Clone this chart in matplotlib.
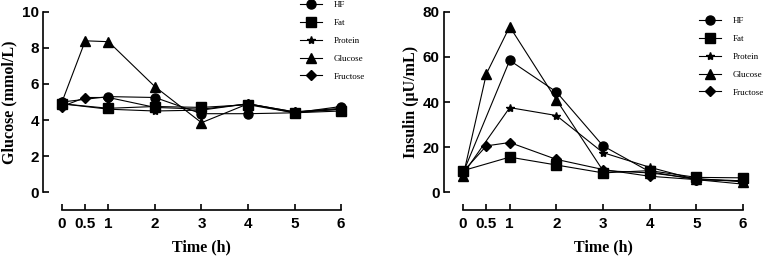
import matplotlib
matplotlib.use("Agg")
import matplotlib.pyplot as plt

plt.rcParams["font.family"] = "Liberation Sans"
plt.rcParams["font.weight"] = "bold"

# -----------------------------------------------------------------------------
# Data
# -----------------------------------------------------------------------------
T_FULL = [0, 0.5, 1, 2, 3, 4, 5, 6]
T_SHORT = [0, 1, 2, 3, 4, 5, 6]
X_TICKS = [0, 0.5, 1, 2, 3, 4, 5, 6]
X_TICK_LABELS = ["0", "0.5", "1", "2", "3", "4", "5", "6"]

GROUPS = ["HF", "Fat", "Protein", "Glucose", "Fructose"]
MARKERS = ["o", "s", "*", "^", "D"]

# blood glucose (mmol/L)
glu_hf = [5.0, 5.3, 5.25, 4.35, 4.35, 4.4, 4.75]
glu_fat = [4.9, 4.65, 4.75, 4.7, 4.85, 4.4, 4.5]
glu_protein = [4.9, 4.6, 4.5, 4.55, 4.9, 4.4, 4.6]
glu_glucose = [5.0, 8.4, 8.35, 5.85, 3.85, 4.9, 4.45, 4.6]
glu_fructose = [4.75, 5.25, 5.25, 4.7, 4.6, 4.9, 4.45, 4.65]

# insulin (uU/mL)
ins_hf = [8.5, 58.5, 44.5, 20.5, 9.0, 5.5, 5.0]
ins_fat = [9.5, 15.5, 12.0, 8.5, 9.5, 6.5, 6.3]
ins_protein = [8.0, 37.5, 34.0, 17.5, 11.0, 5.5, 3.5]
ins_glucose = [7.0, 52.5, 73.5, 41.0, 9.5, 8.5, 6.0, 4.5]
ins_fructose = [9.0, 20.5, 22.0, 14.5, 10.0, 7.0, 5.5, 5.0]

GLU_SERIES = [glu_hf, glu_fat, glu_protein, glu_glucose, glu_fructose]
INS_SERIES = [ins_hf, ins_fat, ins_protein, ins_glucose, ins_fructose]

LABEL_FONT = dict(family="Liberation Serif", weight="bold", size=11.5)


def marker_size(m):
    return {"o": 6.5, "s": 6.5, "*": 6.0, "^": 6.5, "D": 4.8}[m]


def draw_panel(ax, series, ylim, yticks, ylabel):
    for name, m, ys in zip(GROUPS, MARKERS, series):
        xs = T_FULL if len(ys) == len(T_FULL) else T_SHORT
        ax.plot(xs, ys, color="black", linewidth=0.8, marker=m,
                markersize=marker_size(m), markerfacecolor="black",
                markeredgecolor="black", label=name, clip_on=False)
    ax.set_xlim(0, 6)
    ax.set_ylim(*ylim)
    ax.set_xticks(X_TICKS)
    ax.set_xticklabels(X_TICK_LABELS)
    ax.set_yticks(yticks)
    ax.set_yticklabels([str(v) for v in yticks])
    ax.spines["top"].set_visible(False)
    ax.spines["right"].set_visible(False)
    ax.spines["left"].set_position(("outward", 13.7))
    ax.spines["bottom"].set_position(("outward", 13.0))
    ax.spines["left"].set_bounds(ylim[0], ylim[1])
    ax.spines["bottom"].set_bounds(0, 6)
    for sp in ("left", "bottom"):
        ax.spines[sp].set_linewidth(1.2)
    ax.tick_params(axis="both", direction="in", length=4, width=1.2, pad=3,
                   labelsize=11)
    ax.tick_params(axis="x", pad=5)
    ax.set_xlabel("Time (h)", labelpad=6, **LABEL_FONT)
    ax.set_ylabel(ylabel, labelpad=3, **LABEL_FONT)


fig = plt.figure(figsize=(7.67, 2.58), dpi=100)
ax1 = fig.add_axes([0.0808, 0.2558, 0.3638, 0.6977])
ax2 = fig.add_axes([0.6037, 0.2558, 0.3650, 0.6977])

draw_panel(ax1, GLU_SERIES, (0, 10), [0, 2, 4, 6, 8, 10], "Glucose (mmol/L)")
draw_panel(ax2, INS_SERIES, (0, 80), [0, 20, 40, 60, 80], "Insulin (\u03bcU/mL)")

legend_kw = dict(frameon=False, loc="upper left", handlelength=2.4,
                 handletextpad=1.3, labelspacing=1.05, borderaxespad=0,
                 borderpad=0,
                 prop=dict(family="Liberation Serif", weight="normal", size=6.5))
h1, l1 = ax1.get_legend_handles_labels()
fig.legend(h1, l1, bbox_to_anchor=(300 / 767, 1 - 1 / 258), **legend_kw)
h2, l2 = ax2.get_legend_handles_labels()
fig.legend(h2, l2, bbox_to_anchor=(699 / 767, 1 - 17 / 258), **legend_kw)

fig.savefig("out.png", dpi=100)
